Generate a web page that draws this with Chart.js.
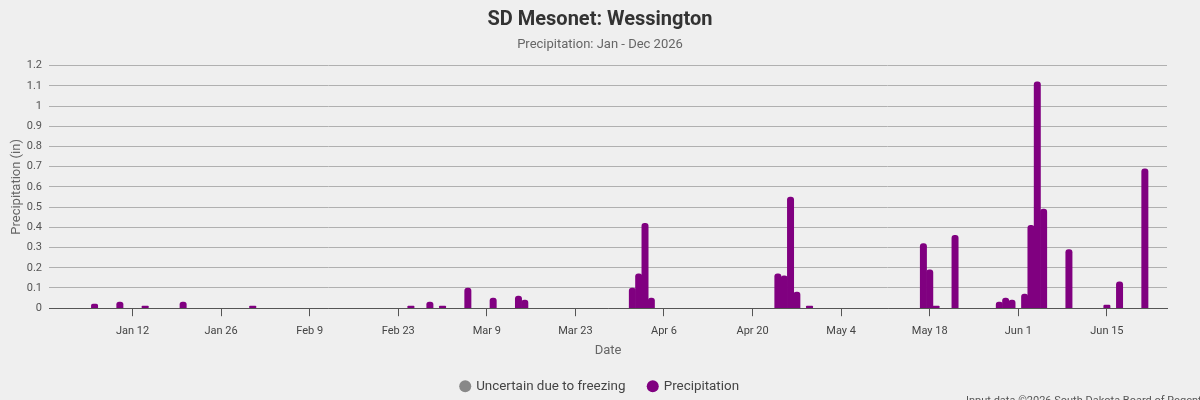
<!DOCTYPE html>
<html>
<head>
<meta charset="utf-8">
<script src="https://cdn.jsdelivr.net/npm/chart.js@4"></script>
<style>
  html, body { margin: 0; padding: 0; background: #efefef; }
  #wrap { position: relative; width: 1200px; height: 400px; overflow: hidden; }
  canvas { display: block; }
</style>
</head>
<body>
<div id="wrap"><canvas id="c" width="1200" height="400"></canvas></div>
<script>
// ---- Data ----
const precipDates = [
  '2026-01-06','2026-01-10','2026-01-14','2026-01-20','2026-01-31',
  '2026-02-25','2026-02-28','2026-03-02','2026-03-06','2026-03-10',
  '2026-03-14','2026-03-15','2026-04-01','2026-04-02','2026-04-03',
  '2026-04-04','2026-04-24','2026-04-25','2026-04-26','2026-04-27',
  '2026-04-29','2026-05-17','2026-05-18','2026-05-19','2026-05-22',
  '2026-05-29','2026-05-30','2026-05-31','2026-06-02','2026-06-03',
  '2026-06-04','2026-06-05','2026-06-09','2026-06-15','2026-06-17',
  '2026-06-21'
];
const precipValues = [
  0.02, 0.03, 0.01, 0.03, 0.01,
  0.01, 0.03, 0.01, 0.10, 0.05,
  0.06, 0.04, 0.10, 0.17, 0.42,
  0.05, 0.17, 0.16, 0.55, 0.08,
  0.01, 0.32, 0.19, 0.01, 0.36,
  0.03, 0.05, 0.04, 0.07, 0.41,
  1.12, 0.49, 0.29, 0.015, 0.13,
  0.69
];
const freezingDates = [];
const freezingValues = [];
const tickDates = [
  '2026-01-12','2026-01-26','2026-02-09','2026-02-23','2026-03-09','2026-03-23',
  '2026-04-06','2026-04-20','2026-05-04','2026-05-18','2026-06-01','2026-06-15'
];
const tickLabels = ['Jan 12','Jan 26','Feb 9','Feb 23','Mar 9','Mar 23','Apr 6','Apr 20','May 4','May 18','Jun 1','Jun 15'];
const rangeStart = '2025-12-29';
const rangeEnd = '2026-06-25';

// ---- helpers ----
const DAY = 86400000;
const base = Date.UTC(2026, 0, 1);
function dayIndex(s) {
  const [y, m, d] = s.split('-').map(Number);
  return (Date.UTC(y, m - 1, d) - base) / DAY;
}
const tickDays = tickDates.map(dayIndex);
const tickMap = {};
tickDays.forEach((d, i) => { tickMap[d] = tickLabels[i]; });

const precipData = precipDates.map((d, i) => ({ x: dayIndex(d), y: precipValues[i] }));
const freezingData = freezingDates.map((d, i) => ({ x: dayIndex(d), y: freezingValues[i] }));

const creditPlugin = {
  id: 'credit',
  afterDraw(chart) {
    const ctx = chart.ctx;
    ctx.save();
    ctx.font = '11px Roboto';
    ctx.fillStyle = '#555';
    ctx.textAlign = 'left';
    ctx.textBaseline = 'middle';
    ctx.fillText('Input data \u00A92026 South Dakota Board of Regents', 966, 401);
    ctx.restore();
  }
};

new Chart(document.getElementById('c'), {
  type: 'bar',
  data: {
    datasets: [
      {
        label: 'Uncertain due to freezing',
        data: freezingData,
        backgroundColor: '#888888',
        borderColor: '#888888',
        borderRadius: 3,
        barPercentage: 1,
        categoryPercentage: 1,
        grouped: false
      },
      {
        label: 'Precipitation',
        data: precipData,
        backgroundColor: '#800080',
        borderColor: '#800080',
        borderRadius: 3,
        barPercentage: 1,
        categoryPercentage: 1,
        grouped: false
      }
    ]
  },
  options: {
    responsive: false,
    animation: false,
    events: [],
    layout: { padding: { left: 0, right: 0, top: 0, bottom: -3 } },
    plugins: {
      title: {
        display: true,
        text: 'SD Mesonet: Wessington',
        color: '#333',
        font: { family: 'Roboto', size: 20, weight: 'bold' },
        padding: { top: 8, bottom: 5 }
      },
      subtitle: {
        display: true,
        text: 'Precipitation: Jan - Dec 2026',
        color: '#666',
        font: { family: 'Roboto', size: 13 },
        padding: { top: 0, bottom: 13 }
      },
      legend: {
        display: true,
        position: 'bottom',
        labels: {
          usePointStyle: true,
          pointStyle: 'circle',
          boxWidth: 8.5,
          boxHeight: 8.5,
          padding: 23,
          color: '#444',
          font: { family: 'Roboto', size: 13.4 }
        }
      },
      tooltip: { enabled: false }
    },
    scales: {
      x: {
        type: 'linear',
        offset: false,
        min: dayIndex(rangeStart) + 0.8,
        max: dayIndex(rangeEnd) - 0.5,
        afterBuildTicks(scale) {
          scale.ticks = tickDays.map(v => ({ value: v }));
        },
        ticks: {
          autoSkip: false,
          maxRotation: 0,
          color: '#444',
          font: { family: 'Roboto', size: 11 },
          padding: 8.4,
          callback: (v) => tickMap[v] || ''
        },
        grid: {
          drawOnChartArea: false,
          drawTicks: true,
          tickLength: 8,
          color: '#555',
          offset: false
        },
        border: { display: true, color: '#555', width: 1 },
        title: {
          display: true,
          text: 'Date',
          color: '#666',
          font: { family: 'Roboto', size: 13 },
          padding: { top: -3.2, bottom: -2 }
        }
      },
      y: {
        type: 'linear',
        min: 0,
        max: 1.2,
        afterFit(scale) { scale.width = 49; },
        ticks: {
          stepSize: 0.1,
          color: '#555',
          font: { family: 'Roboto', size: 11 },
          padding: 7,
          callback: (v) => String(Math.round(v * 10) / 10)
        },
        grid: {
          drawTicks: false,
          color: '#b0b0b0',
          lineWidth: 1
        },
        border: { display: false },
        title: {
          display: true,
          text: 'Precipitation (in)',
          color: '#666',
          font: { family: 'Roboto', size: 13 },
          padding: { top: 9, bottom: 0 }
        }
      },
      yRightSpace: {
        type: 'linear',
        position: 'right',
        display: true,
        afterFit(scale) { scale.width = 33; },
        ticks: { display: false },
        grid: { display: false, drawOnChartArea: false },
        border: { display: false },
        title: { display: false }
      }
    }
  },
  plugins: [creditPlugin]
});
</script>
</body>
</html>
